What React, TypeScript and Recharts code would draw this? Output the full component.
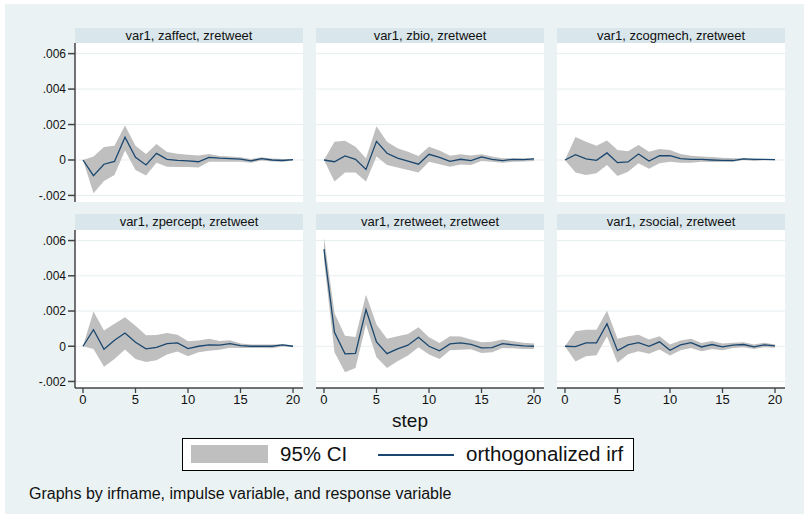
import React from "react";
import { ComposedChart, Area, Line, XAxis, YAxis, CartesianGrid } from "recharts";

const steps = [0, 1, 2, 3, 4, 5, 6, 7, 8, 9, 10, 11, 12, 13, 14, 15, 16, 17, 18, 19, 20];

// var1, zaffect, zretweet
const affectIrf = [0, -0.00088, -0.00024, -0.00008, 0.00128, 0.00015, -0.00028, 0.00037, 0.00004, -0.00002, -0.00005, -0.0001, 0.00015, 0.0001, 0.00008, 0.00005, -0.00005, 0.00008, 0, -0.00003, 0.00002];
const affectLo = [0, -0.00188, -0.00118, -0.00085, 0.00053, -0.00056, -0.00088, -0.00015, -0.00038, -0.0004, -0.0004, -0.00042, -0.0001, -0.0001, -0.0001, -0.0001, -0.00015, -0.00003, -0.00008, -0.0001, -0.00004];
const affectHi = [0, 0.0002, 0.00073, 0.0008, 0.00195, 0.0008, 0.00034, 0.0009, 0.00045, 0.00035, 0.0003, 0.00025, 0.00034, 0.00022, 0.0002, 0.00015, 0.00005, 0.00015, 0.00008, 0.00005, 0.00005];

// var1, zbio, zretweet
const bioIrf = [0, -0.0001, 0.00023, 0.00004, -0.00053, 0.00105, 0.00038, 0.00011, -0.00006, -0.00024, 0.00032, 0.00015, -0.00008, 0.00004, -0.00004, 0.00017, 0.00004, -0.00004, 0.00004, 0.00002, 0.00006];
const bioLo = [0, -0.00122, -0.0007, -0.0007, -0.00122, 0.00019, -0.00028, -0.00043, -0.00056, -0.00071, -0.0001, -0.00024, -0.00038, -0.00025, -0.00028, -0.00005, -0.0001, -0.00015, -0.0001, -0.00008, -0.00005];
const bioHi = [0, 0.00103, 0.00109, 0.00075, 0.0001, 0.0019, 0.00103, 0.00066, 0.00047, 0.00023, 0.00075, 0.00053, 0.00024, 0.00032, 0.00026, 0.00032, 0.00019, 0.0001, 0.0001, 0.0001, 0.0001];

// var1, zcogmech, zretweet
const cogIrf = [0, 0.0003, 0.00006, -0.00002, 0.0004, -0.00015, -0.00011, 0.00034, -0.00006, 0.00024, 0.00024, 0.00008, 0.00003, 0.00003, 0, -0.00002, -0.00003, 0.00006, 0.00003, 0.00003, 0.00002];
const cogLo = [0, -0.0007, -0.00085, -0.00075, -0.00028, -0.0009, -0.00066, -0.00019, -0.0005, -0.00019, -0.0001, -0.00015, -0.00015, -0.0001, -0.00012, -0.00012, -0.0001, 0, -0.00005, -0.00002, -0.00002];
const cogHi = [0, 0.0013, 0.00103, 0.0008, 0.0011, 0.00056, 0.0005, 0.00085, 0.00047, 0.00062, 0.00056, 0.00034, 0.00024, 0.0002, 0.00017, 0.00012, 0.0001, 0.0001, 0.00008, 0.00005, 0.00004];

// var1, zpercept, zretweet
const perceptIrf = [0, 0.00094, -0.00017, 0.00034, 0.00075, 0.00023, -0.00015, -0.00006, 0.00015, 0.00019, -0.00013, 0, 0.00008, 0.00006, 0.00015, 0.00004, 0, 0, 0, 0.00008, 0];
const perceptLo = [0, -0.00015, -0.00117, -0.00072, -0.00019, -0.00072, -0.0009, -0.0008, -0.00047, -0.0003, -0.00057, -0.00034, -0.00025, -0.0002, -0.00008, -0.0001, -0.0001, -0.0001, -0.00012, -0.00002, -0.00005];
const perceptHi = [0, 0.00198, 0.00089, 0.00128, 0.00164, 0.00117, 0.00062, 0.00064, 0.00075, 0.00066, 0.00028, 0.00032, 0.00042, 0.0003, 0.00034, 0.00015, 0.0001, 0.0001, 0.0001, 0.00012, 0.00006];

// var1, zretweet, zretweet
const retweetIrf = [0.00551, 0.00079, -0.00043, -0.0004, 0.00208, 0.00025, -0.00042, -0.00015, 0.00006, 0.00051, 0, -0.00026, 0.00013, 0.00019, 0.00011, -0.00009, -0.00008, 0.00015, 0.00008, 0.00002, 0];
const retweetLo = [0.0049, -0.00034, -0.00147, -0.00123, 0.00123, -0.00062, -0.00123, -0.00085, -0.00053, -0.00006, -0.00047, -0.00072, -0.00023, -0.0002, -0.00017, -0.00038, -0.00034, -0.0001, -0.00012, -0.00015, -0.00015];
const retweetHi = [0.00619, 0.00189, 0.0006, 0.00053, 0.00292, 0.00123, 0.00042, 0.00057, 0.0007, 0.00108, 0.00051, 0.00019, 0.00057, 0.00055, 0.00038, 0.00023, 0.00025, 0.00038, 0.00028, 0.0002, 0.00015];

// var1, zsocial, zretweet
const socialIrf = [0, -0.00002, 0.00019, 0.00019, 0.00128, -0.00025, 0.00008, 0.00021, 0, 0.00025, -0.00023, 0.00008, 0.00021, -0.00004, 0.0001, -0.00004, 0.00006, 0.0001, -0.00004, 0.00008, 0.00002];
const socialLo = [0, -0.00087, -0.00057, -0.00051, 0.00057, -0.00094, -0.00045, -0.00028, -0.00042, -0.00019, -0.00053, -0.00023, -0.0001, -0.00028, -0.00015, -0.00023, -0.0001, -0.00005, -0.00015, -0.00005, -0.00008];
const socialHi = [0, 0.00085, 0.00094, 0.00094, 0.00202, 0.00042, 0.00057, 0.00066, 0.00038, 0.00057, 0.0001, 0.00032, 0.00042, 0.00019, 0.0003, 0.00015, 0.0002, 0.00023, 0.0001, 0.0002, 0.0001];

const yTicks = [-0.002, 0, 0.002, 0.004, 0.006];
const xTicks = [0, 5, 10, 15, 20];

const FONT = "'Liberation Sans', Arial, sans-serif";
const BAND = "#bfbfbf";
const NAVY = "#1a476f";

const COL_X = [75, 316, 557];
const PLOT_W = 228;
const HEAD_Y = [28, 214];
const PLOT_Y = [43, 230];
const PLOT_H = [159, 158];

const fmt = (v: number) => (v === 0 ? "0" : v.toFixed(3).replace("0.", "."));

function Panel({ title, irf, lo, hi, col, row }: any) {
  const data = steps.map((s, i) => ({ step: s, irf: irf[i], band: [lo[i], hi[i]] }));
  const yW = col === 0 ? 60 : 0;
  const xH = row === 1 ? 30 : 0;
  const left = COL_X[col];
  return (
    <>
      <div
        style={{
          position: "absolute",
          left,
          top: HEAD_Y[row],
          width: PLOT_W,
          height: PLOT_Y[row] - HEAD_Y[row],
          background: "#d9e6eb",
          fontSize: 13,
          lineHeight: `${PLOT_Y[row] - HEAD_Y[row]}px`,
          textAlign: "center",
          color: "#111",
        }}
      >
        {title}
      </div>
      <div
        style={{ position: "absolute", left, top: PLOT_Y[row], width: PLOT_W, height: PLOT_H[row], background: "#fff" }}
      />
      <div style={{ position: "absolute", left: left - yW, top: PLOT_Y[row] }}>
        <ComposedChart
          width={PLOT_W + yW}
          height={PLOT_H[row] + xH}
          data={data}
          margin={{ top: 0, right: 0, bottom: 0, left: 0 }}
        >
          <CartesianGrid vertical={false} stroke="#e6eef1" horizontalValues={yTicks} />
          <XAxis
            type="number"
            dataKey="step"
            domain={[-0.76, 20.95]}
            allowDataOverflow
            ticks={xTicks}
            interval={0}
            hide={row === 0}
            height={xH}
            stroke="#444"
            strokeWidth={1.3}
            tickSize={5}
            tickMargin={2}
            tick={{ fontSize: 13, fill: "#111", fontFamily: FONT }}
          />
          <YAxis
            type="number"
            domain={[-0.00237, 0.0066]}
            allowDataOverflow
            ticks={yTicks}
            interval={0}
            hide={col !== 0}
            width={yW}
            stroke="#444"
            strokeWidth={1.5}
            tickSize={7}
            tickMargin={2}
            tickFormatter={fmt}
            tick={{ fontSize: 12, fill: "#111", fontFamily: FONT }}
          />
          <Area
            type="linear"
            dataKey="band"
            stroke="none"
            fill={BAND}
            fillOpacity={1}
            isAnimationActive={false}
          />
          <Line
            type="linear"
            dataKey="irf"
            stroke={NAVY}
            strokeWidth={1.3}
            dot={false}
            isAnimationActive={false}
          />
        </ComposedChart>
      </div>
    </>
  );
}

export default function App() {
  return (
    <div
      style={{
        position: "absolute",
        left: 0,
        top: 0,
        width: 804,
        height: 514,
        background: "#fff",
        fontFamily: FONT,
        overflow: "hidden",
      }}
    >
      <div style={{ position: "absolute", left: 5, top: 4, right: 0, bottom: 0, background: "#eaf2f3" }} />
      <Panel title="var1, zaffect, zretweet" irf={affectIrf} lo={affectLo} hi={affectHi} col={0} row={0} />
      <Panel title="var1, zbio, zretweet" irf={bioIrf} lo={bioLo} hi={bioHi} col={1} row={0} />
      <Panel title="var1, zcogmech, zretweet" irf={cogIrf} lo={cogLo} hi={cogHi} col={2} row={0} />
      <Panel title="var1, zpercept, zretweet" irf={perceptIrf} lo={perceptLo} hi={perceptHi} col={0} row={1} />
      <Panel title="var1, zretweet, zretweet" irf={retweetIrf} lo={retweetLo} hi={retweetHi} col={1} row={1} />
      <Panel title="var1, zsocial, zretweet" irf={socialIrf} lo={socialLo} hi={socialHi} col={2} row={1} />

      <div
        style={{ position: "absolute", left: 330, width: 160, top: 410, textAlign: "center", fontSize: 19, color: "#111" }}
      >
        step
      </div>

      <div
        style={{
          position: "absolute",
          left: 182,
          top: 438,
          width: 450,
          height: 31,
          border: "1px solid #000",
          background: "#fff",
        }}
      >
        <div style={{ position: "absolute", left: 8, top: 6, width: 77, height: 18, background: BAND }} />
        <div style={{ position: "absolute", left: 97, top: 4, fontSize: 20.5, lineHeight: "22px", color: "#111" }}>95% CI</div>
        <div style={{ position: "absolute", left: 195, top: 15, width: 76, height: 1.5, background: NAVY }} />
        <div style={{ position: "absolute", left: 283, top: 4, fontSize: 20.5, lineHeight: "22px", color: "#111" }}>
          orthogonalized irf
        </div>
      </div>

      <div style={{ position: "absolute", left: 29, top: 485, fontSize: 16, color: "#111" }}>
        Graphs by irfname, impulse variable, and response variable
      </div>
    </div>
  );
}
